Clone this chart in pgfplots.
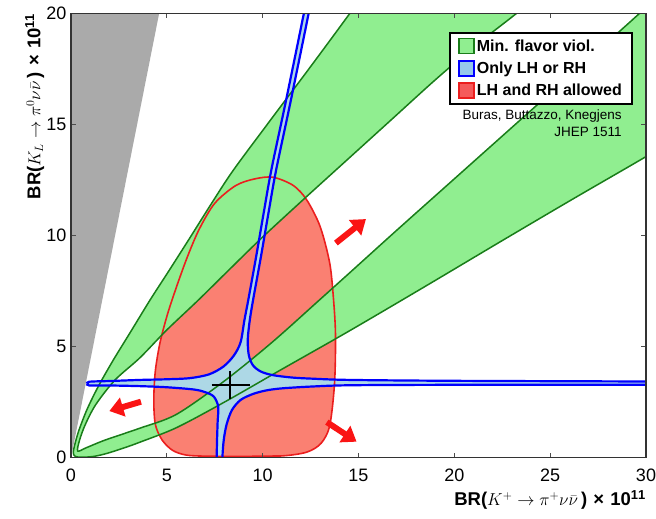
\documentclass[border=0pt]{standalone}
\usepackage{fontspec}
\setmainfont{Liberation Sans}
\usepackage{pgfplots}
\pgfplotsset{compat=1.18}
\usetikzlibrary{arrows.meta}
\definecolor{lgreen}{RGB}{144,238,144}
\definecolor{dgreen}{RGB}{25,125,25}
\definecolor{lblue}{RGB}{173,216,230}
\definecolor{legblue}{RGB}{150,200,235}
\definecolor{salm}{RGB}{250,128,114}
\definecolor{legred}{RGB}{245,90,90}
\definecolor{redline}{RGB}{235,30,30}
\definecolor{arrowred}{RGB}{250,20,20}
\definecolor{wedge}{RGB}{170,170,170}
\begin{document}
\begin{tikzpicture}[x=1pt,y=1pt]
\path[use as bounding box] (0,0) rectangle (656,519);
\begin{axis}[
  at={(71pt,61.3pt)}, anchor=south west,
  scale only axis, width=575pt, height=444.4pt,
  xmin=0, xmax=30, ymin=0, ymax=20,
  xtick={0,5,10,15,20,25,30}, ytick={0,5,10,15,20},
  axis on top, no markers,
  tick align=inside, major tick length=5pt,
  tick style={black!70, line width=0.8pt},
  axis line style={black!80, line width=1.3pt},
  ticklabel style={font=\fontsize{18}{20}\selectfont},
  /pgf/number format/assume math mode=true,
  xticklabel style={yshift=-8pt},
  yticklabel style={xshift=-1pt},
  xlabel={BR($K^{+}\to\pi^{+}\nu\bar{\nu}\,$)\,\,×\,\,10$^{\mathbf{11}}$},
  ylabel={BR($K_{L}\to\pi^{0}\nu\bar{\nu}\,$)\,\,×\,\,10$^{\mathbf{11}}$},
  xlabel style={at={(axis description cs:1,-0.0952)}, anchor=east, font=\bfseries\fontsize{18.5}{21}\selectfont, inner sep=0pt},
  ylabel style={at={(axis description cs:-0.063,1)}, anchor=east, font=\bfseries\fontsize{18.5}{21}\selectfont, inner sep=0pt},
  legend style={at={(axis description cs:0.977,0.9586)}, anchor=north east, draw=black, line width=2pt, fill=white,
    font=\bfseries\fontsize{16}{19}\selectfont, inner xsep=8pt, inner ysep=5pt, row sep=5pt},
  legend cell align=left,
  legend image code/.code={\draw[#1] (0pt,-7.5pt) rectangle (15pt,7.5pt);},
]
\addlegendimage{fill=lgreen, draw=dgreen, line width=1.5pt}
\addlegendentry{Min. flavor viol.}
\addlegendimage{fill=legblue, draw=blue, line width=1.5pt}
\addlegendentry{Only LH or RH}
\addlegendimage{fill=legred, draw=redline, line width=1.5pt}
\addlegendentry{LH and RH allowed}

% Grossman-Nir excluded wedge
\addplot[fill=wedge, draw=none, forget plot] coordinates {(0,0) (5.06,22) (-1,22) (-1,0)};

% LH and RH allowed region (fill)
\addplot[fill=salm, draw=none, smooth, forget plot] coordinates {
(9,0.06) (11,0.08) (12.3,0.25) (13.05,0.65) (13.5,1.45) (13.75,3.35) (13.8,5.5) (13.7,7.09)
(13.5,8.75) (13.0,10.4) (12.3,11.6) (11.6,12.25) (10.55,12.62) (9.6,12.55) (8.6,12.25) (7.5,11.45)
(6.7,10.3) (6.1,9.1) (5.55,7.8) (5.05,6.5) (4.65,5.2) (4.4,3.9) (4.32,2.6) (4.4,1.5) (4.75,0.8)
(5.3,0.33) (6.0,0.12) (7,0.07) (9,0.06) (11,0.08)};

% MFV band (fill)
\addplot[fill=lgreen, draw=none, smooth, forget plot] coordinates {
(16.2,22) (14.55,20) (12.5,17.6) (10.5,15.3) (8.47,12.94) (7.3,11.4) (6.2,9.89) (5.1,8.4) (4.12,7.09)
(3.1,5.65) (2.21,4.4) (1.45,3.25) (0.85,2.2) (0.42,1.25) (0.2,0.6) (0.12,0.22)
(0.22,0.06) (0.55,0.02) (1.2,0.06) (1.9,0.2) (2.8,0.45) (3.6,0.7) (5.5,1.35) (8,2.5) (11,3.98)
(14.55,5.72) (18.5,7.72) (22.4,9.72) (26.2,11.65) (30,13.55) (33,15.1) (33,22)
(32.3,22) (29.67,20) (29,19.48) (26,17.17) (23,14.86) (20,12.55) (17,10.24) (14.55,8.33) (12.9,7.05)
(10.5,5.2) (8,3.45) (5.5,1.95) (3.6,1.33) (1.8,0.8) (0.8,0.45) (0.35,0.3)
(0.45,0.8) (0.75,1.5) (1.3,2.4) (2.3,3.5) (3.6,4.5) (5.0,5.75) (6.64,7.09) (8.3,8.5) (9.95,9.89)
(12.1,11.6) (14.4,13.4) (16.7,15.2) (19,17.0) (21.1,18.55) (23.25,20) (25.8,21.8)};

% Only LH or RH (fill)
\addplot[fill=lblue, draw=none, smooth, forget plot] coordinates {
(7.58,-1) (7.6,0) (7.62,0.8) (7.65,1.6) (7.68,2.3) (7.45,2.75) (7.0,2.95) (6.4,3.07) (5.0,3.17)
(3.6,3.22) (2.0,3.25) (0.95,3.25) (0.87,3.33) (0.95,3.42) (2.0,3.45) (3.6,3.5) (5.0,3.53) (6.2,3.58)
(7.2,3.75) (7.95,4.1) (8.5,4.6) (8.85,5.2) (9.05,6.2) (9.25,7.1) (9.65,9.0) (10.05,11.0) (10.45,12.94)
(11.2,16) (12.15,20) (12.6,22) (12.85,22) (12.4,20) (11.45,16) (10.7,12.94) (10.3,11.0) (9.9,9.0)
(9.5,7.1) (9.33,6.2) (9.22,5.3) (9.28,4.6) (9.5,4.15) (9.9,3.88) (10.5,3.72) (11.5,3.61) (12.5,3.56)
(14.55,3.5) (20,3.46) (30,3.43) (32,3.43) (32,3.28) (30,3.28) (20,3.28) (14.55,3.26) (12.5,3.2)
(11.0,3.12) (10.2,3.03) (9.5,2.87) (8.85,2.6) (8.4,2.15) (8.12,1.5) (7.97,0.8) (7.9,0) (7.88,-1)};

% red outline
\addplot[redline, line width=1.6pt, smooth, forget plot] coordinates {
(9,0.06) (11,0.08) (12.3,0.25) (13.05,0.65) (13.5,1.45) (13.75,3.35) (13.8,5.5) (13.7,7.09)
(13.5,8.75) (13.0,10.4) (12.3,11.6) (11.6,12.25) (10.55,12.62) (9.6,12.55) (8.6,12.25) (7.5,11.45)
(6.7,10.3) (6.1,9.1) (5.55,7.8) (5.05,6.5) (4.65,5.2) (4.4,3.9) (4.32,2.6) (4.4,1.5) (4.75,0.8)
(5.3,0.33) (6.0,0.12) (7,0.07) (9,0.06) (11,0.08)};

% MFV boundaries
\addplot[dgreen, line width=1.5pt, smooth, forget plot] coordinates {
(16.2,22) (14.55,20) (12.5,17.6) (10.5,15.3) (8.47,12.94) (7.3,11.4) (6.2,9.89) (5.1,8.4) (4.12,7.09)
(3.1,5.65) (2.21,4.4) (1.45,3.25) (0.85,2.2) (0.42,1.25) (0.2,0.6) (0.12,0.22)
(0.22,0.06) (0.55,0.02) (1.2,0.06) (1.9,0.2) (2.8,0.45) (3.6,0.7) (5.5,1.35) (8,2.5) (11,3.98)
(14.55,5.72) (18.5,7.72) (22.4,9.72) (26.2,11.65) (30,13.55) (33,15.1)};
\addplot[dgreen, line width=1.5pt, smooth, forget plot] coordinates {
(32.3,22) (29.67,20) (29,19.48) (26,17.17) (23,14.86) (20,12.55) (17,10.24) (14.55,8.33) (12.9,7.05)
(10.5,5.2) (8,3.45) (5.5,1.95) (3.6,1.33) (1.8,0.8) (0.8,0.45) (0.35,0.3)
(0.45,0.8) (0.75,1.5) (1.3,2.4) (2.3,3.5) (3.6,4.5) (5.0,5.75) (6.64,7.09) (8.3,8.5) (9.95,9.89)
(12.1,11.6) (14.4,13.4) (16.7,15.2) (19,17.0) (21.1,18.55) (23.25,20) (25.8,21.8)};

% Only LH or RH outline
\addplot[blue, line width=2.2pt, smooth, forget plot] coordinates {
(7.58,-1) (7.6,0) (7.62,0.8) (7.65,1.6) (7.68,2.3) (7.45,2.75) (7.0,2.95) (6.4,3.07) (5.0,3.17)
(3.6,3.22) (2.0,3.25) (0.95,3.25) (0.87,3.33) (0.95,3.42) (2.0,3.45) (3.6,3.5) (5.0,3.53) (6.2,3.58)
(7.2,3.75) (7.95,4.1) (8.5,4.6) (8.85,5.2) (9.05,6.2) (9.25,7.1) (9.65,9.0) (10.05,11.0) (10.45,12.94)
(11.2,16) (12.15,20) (12.6,22)};
\addplot[blue, line width=2.2pt, smooth, forget plot] coordinates {
(12.85,22) (12.4,20) (11.45,16) (10.7,12.94) (10.3,11.0) (9.9,9.0)
(9.5,7.1) (9.33,6.2) (9.22,5.3) (9.28,4.6) (9.5,4.15) (9.9,3.88) (10.5,3.72) (11.5,3.61) (12.5,3.56)
(14.55,3.5) (20,3.46) (30,3.43) (32,3.43)};
\addplot[blue, line width=2.2pt, smooth, forget plot] coordinates {
(32,3.28) (30,3.28) (20,3.28) (14.55,3.26) (12.5,3.2)
(11.0,3.12) (10.2,3.03) (9.5,2.87) (8.85,2.6) (8.4,2.15) (8.12,1.5) (7.97,0.8) (7.9,0) (7.88,-1)};

% SM point
\addplot[black, line width=1.8pt, forget plot] coordinates {(7.34,3.27) (9.32,3.27)};
\addplot[black, line width=1.8pt, forget plot] coordinates {(8.31,2.62) (8.31,3.89)};

% arrows
\addplot[arrowred, line width=6pt, -{Triangle[width=19pt,length=14pt]}, forget plot] coordinates {(13.82,9.66) (15.39,10.74)};
\addplot[arrowred, line width=6pt, -{Triangle[width=19pt,length=14pt]}, forget plot] coordinates {(3.65,2.52) (2.0,2.1)};
\addplot[arrowred, line width=6pt, -{Triangle[width=19pt,length=14pt]}, forget plot] coordinates {(13.35,1.6) (14.9,0.72)};

\node[anchor=north east, align=right, inner sep=0pt, font=\fontsize{13.5}{16.6}\selectfont]
  at (axis description cs:0.958,0.7830) {Buras, Buttazzo, Knegjens\\JHEP 1511};
\end{axis}
\end{tikzpicture}
\end{document}
